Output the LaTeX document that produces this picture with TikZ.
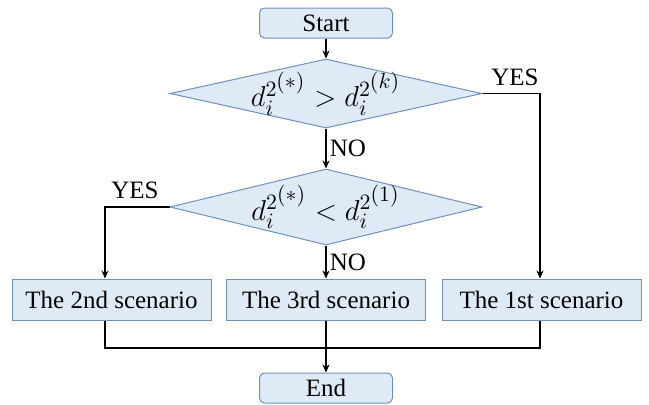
\documentclass[tikz,border=0pt]{standalone}
\usepackage{amsmath}
\usepackage{fontspec}
\setmainfont{Liberation Serif}
\usetikzlibrary{shapes.geometric, arrows.meta}
\definecolor{boxfill}{RGB}{222,235,247}
\definecolor{boxline}{RGB}{110,145,190}

\begin{document}
\begin{tikzpicture}[
		x=0.5pt, y=-0.5pt,
		every node/.style={font=\fontsize{12.5}{15}\selectfont},
		terminal/.style={rectangle, rounded corners=2.5pt, draw=boxline, fill=boxfill, line width=0.5pt, minimum width=66.5pt, minimum height=15pt, inner sep=0pt},
		decision/.style={diamond, aspect=4.5, draw=boxline, fill=boxfill, line width=0.5pt, minimum width=156pt, minimum height=34.5pt, inner xsep=-12pt, inner ysep=-2pt, font=\fontsize{15}{17}\selectfont},
		scenario/.style={rectangle, draw=boxline, fill=boxfill, line width=0.5pt, minimum width=99.5pt, minimum height=20.5pt, inner sep=0pt},
		flow/.style={line width=0.7pt, -{Stealth[length=4pt, width=3.5pt]}}
	]
  \useasboundingbox (0,0) rectangle (649,404);
  \node (start) [terminal] at (326, 23) {Start};
  \node (test_k) [decision] at (326, 93.5) {$d_i^{2^{\scriptstyle(*)}} > d_i^{2^{\scriptstyle(k)}}$};
  \node (test_1) [decision, minimum height=38pt] at (326, 207) {$d_i^{2^{\scriptstyle(*)}} < d_i^{2^{\scriptstyle(1)}}$};
  \node (scen_2) [scenario] at (111.5, 299.5) {The 2nd scenario};
  \node (scen_3) [scenario] at (326, 299.5) {The 3rd scenario};
  \node (scen_1) [scenario] at (541.5, 299.5) {The 1st scenario};
  \node (end) [terminal] at (326, 388) {End};
  \coordinate (join) at (326, 348);
  \node (yes_k) at (515, 77) {YES};
  \node (no_k) at (348, 148) {NO};
  \node (yes_1) at (135, 190) {YES};
  \node (no_1) at (348, 262) {NO};
  \draw [flow] (start) -- (test_k);
  \draw [flow] (test_k.east) -| ([xshift=-0.75pt]scen_1.north);
  \draw [flow] (test_k) -- (test_1);
  \draw [flow] (test_1.west) -| ([xshift=-3.25pt]scen_2.north);
  \draw [flow] (test_1) -- (scen_3);
  \draw [line width=0.7pt] ([xshift=-3.25pt]scen_2.south) |- (join) -| ([xshift=-0.75pt]scen_1.south);
  \draw [flow] (scen_3) -- (end);
\end{tikzpicture}
\end{document}
